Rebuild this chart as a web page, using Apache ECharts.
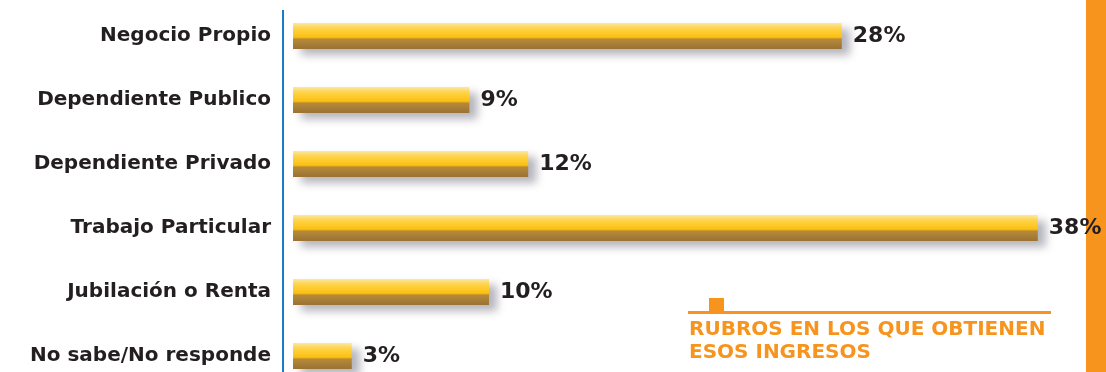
<!DOCTYPE html>
<html>
<head>
<meta charset="utf-8">
<script src="https://cdn.jsdelivr.net/npm/echarts@6/dist/echarts.min.js"></script>
<style>
  html, body { margin: 0; padding: 0; background: #fff; }
  #chart { width: 1106px; height: 372px; }
</style>
</head>
<body>
<div id="chart"></div>
<script>
// datos
var categorias = ['Negocio Propio', 'Dependiente Publico', 'Dependiente Privado', 'Trabajo Particular', 'Jubilación o Renta', 'No sabe/No responde'];
var porcentajes = [28, 9, 12, 38, 10, 3];
var tituloLineas = ['RUBROS EN LOS QUE OBTIENEN', 'ESOS INGRESOS'];

var naranja = '#f7941d';
var chart = echarts.init(document.getElementById('chart'));

var option = {
  animation: false,
  grid: { left: 293, top: 4, right: 29, bottom: -16, outerBoundsMode: 'none' },
  xAxis: {
    type: 'value', min: 0, max: 40, show: false
  },
  yAxis: {
    type: 'category',
    data: categorias,
    inverse: true,
    axisLine: { show: false },
    axisTick: { show: false },
    axisLabel: {
      margin: 22,
      color: '#231f20',
      fontFamily: 'DejaVu Sans',
      fontWeight: 'bold',
      fontSize: 20
    }
  },
  series: [{
    type: 'bar',
    data: porcentajes,
    barWidth: 26,
    itemStyle: {
      color: new echarts.graphic.LinearGradient(0, 0, 0, 1, [
        { offset: 0, color: '#fde7a8' },
        { offset: 0.18, color: '#ffd550' },
        { offset: 0.55, color: '#fbc00e' },
        { offset: 0.62, color: '#b8893a' },
        { offset: 1, color: '#9a7232' }
      ]),
      shadowColor: 'rgba(90,90,110,0.45)',
      shadowBlur: 8,
      shadowOffsetX: 8,
      shadowOffsetY: 6
    },
    label: {
      show: true,
      position: 'right',
      distance: 11,
      formatter: '{c}%',
      color: '#231f20',
      fontFamily: 'DejaVu Sans',
      fontWeight: 'bold',
      fontSize: 22
    }
  }],
  graphic: [
    { type: 'line', shape: { x1: 283, y1: 10, x2: 283, y2: 372 }, style: { stroke: '#1b7bc4', lineWidth: 2 } },
    { type: 'rect', shape: { x: 1086, y: 0, width: 20, height: 372 }, style: { fill: naranja } },
    { type: 'rect', shape: { x: 709, y: 298, width: 15, height: 14 }, style: { fill: naranja } },
    { type: 'rect', shape: { x: 688, y: 311, width: 363, height: 3 }, style: { fill: naranja } },
    { type: 'text', left: 689, top: 320, style: { text: tituloLineas[0], fill: naranja, font: 'bold 20px "DejaVu Sans"' } },
    { type: 'text', left: 689, top: 343, style: { text: tituloLineas[1], fill: naranja, font: 'bold 20px "DejaVu Sans"' } }
  ]
};
chart.setOption(option);
</script>
</body>
</html>
